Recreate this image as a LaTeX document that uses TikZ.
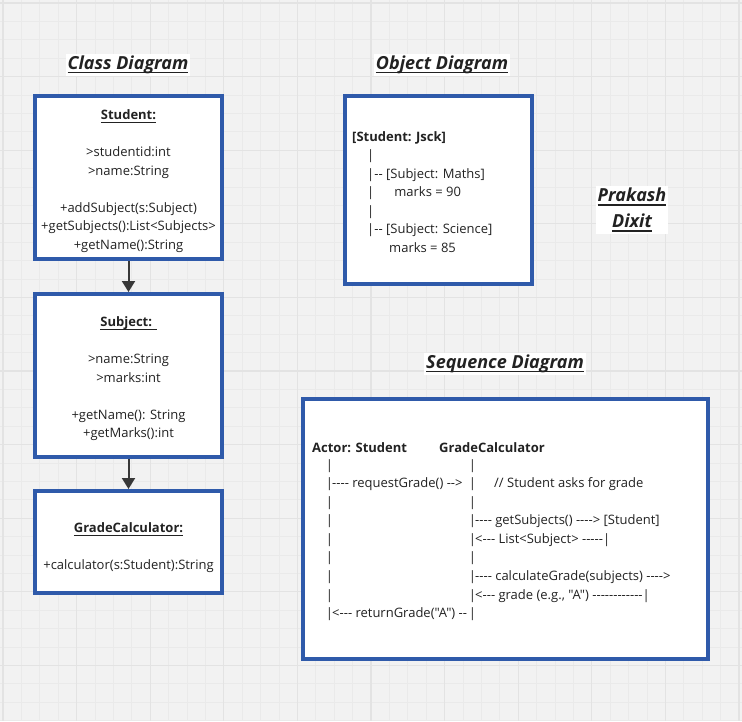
\documentclass[tikz,border=0pt]{standalone}
\usepackage{fontspec}
\setmainfont{Open Sans}[Ligatures=TeXOff]
\usetikzlibrary{arrows.meta}
\definecolor{rahmen}{HTML}{2F5AAA}
\definecolor{papier}{HTML}{F2F2F2}
\definecolor{gitter}{HTML}{EAEAEA}
\definecolor{gitterd}{HTML}{E3E3E3}
\definecolor{tinte}{HTML}{222222}
\newcommand\ustrich[2][1.6pt]{\setbox0\hbox{#2}\rlap{\vrule height -2.4pt depth \dimexpr2.4pt+#1\relax width \wd0}\box0}
\tikzset{
  kasten/.style={draw=rahmen,fill=white,line width=4pt,inner sep=0pt,align=center,
    font=\fontsize{13}{18.5}\selectfont,text=tinte},
  titel/.style={fill=white,inner sep=2pt,align=center,text=tinte,
    font=\fontsize{18}{26}\selectfont\bfseries\itshape},
  txt/.style={font=\fontsize{13}{18.5}\selectfont,text=tinte,inner sep=0pt},
  pfeil/.style={-{Triangle[length=11pt,width=13pt]},draw=tinte!90,line width=2pt},
  fein/.style={gitter,line width=0.8pt},
  grob/.style={gitterd,line width=1.2pt},
}

\begin{document}
\begin{tikzpicture}[x=1pt,y=-1pt]
  \useasboundingbox (0,0) rectangle (742,721);
  % raster
  \fill[papier] (0,0) rectangle (742,721);
  \foreach \i in {0,...,40} {
    \draw[fein] ({3+18.4*\i},0) -- ++(0,721);
    \draw[fein] (0,{3+18.4*\i}) -- ++(742,0);
  }
  \foreach \i in {0,...,10} {
    \draw[grob] ({3+73.6*\i},0) -- ++(0,721);
    \draw[grob] (0,{3+73.6*\i}) -- ++(742,0);
  }
  % titles
  \node[titel] (tklasse) at (128,64.5) {\ustrich{Class Diagram}};
  \node[titel] (tobjekt) at (442,64.5) {\ustrich{Object Diagram}};
  \node[titel] (tsequenz) at (505,363.5) {\ustrich{Sequence Diagram}};
  \node[titel] (tautor) at (632,210) {\ustrich{Prakash}\\\ustrich{Dixit}};
  % class diagram
  \node[kasten,minimum width=187,minimum height=163] (student) at (128.5,177.5)
    {\rule{0pt}{17pt}\ustrich[1pt]{\textbf{Student:}}\\[18.5pt]
     >studentid:int\\>name:String\\[18.5pt]
     +addSubject(s:Subject)\\+getSubjects():List<Subjects>\\+getName():String};
  \node[kasten,minimum width=187,minimum height=163] (subject) at (128.5,375.5)
    {\rule{0pt}{17pt}\ustrich[1pt]{\textbf{Subject: }}\\[18.5pt]
     >name:String\\>marks:int\\[18.5pt]
     +getName(): String\\+getMarks():int};
  \node[kasten,minimum width=187,minimum height=102] (rechner) at (128.5,542)
    {\rule{0pt}{22pt}\ustrich[1pt]{\textbf{GradeCalculator:}}\\[18.5pt]
     +calculator(s:Student):String};
  \draw[pfeil] (student) -- (subject);
  \draw[pfeil] (subject) -- (rechner);
  % object diagram
  \node[kasten,minimum width=187,minimum height=188] (objekt) at (438.5,190) {};
  \node[txt,align=left,anchor=west] (objinhalt) at (352,192)
    {\textbf{[Student: Jsck]}\\
     \hspace*{15pt}|\\
     \hspace*{15pt}|-- [Subject: Maths]\\
     \hspace*{15pt}|\hspace*{20pt}marks = 90\\
     \hspace*{15pt}|\\
     \hspace*{15pt}|-- [Subject: Science]\\
     \hspace*{37pt}marks = 85};
  % sequence diagram
  \node[kasten,minimum width=405,minimum height=260] (sequenz) at (505.5,529) {};
  \node[txt,anchor=base west,font=\fontsize{13}{18.5}\selectfont\bfseries] (akteur) at (312,452) {Actor: Student};
  \node[txt,anchor=base west,font=\fontsize{13}{18.5}\selectfont\bfseries] (rechnerkopf) at (439,452) {GradeCalculator};
  \foreach \y [count=\k] in {469,487,506,524,543,561,580,599,617} {
    \node[txt,anchor=base] (links\k) at (329.5,\y) {|};
    \node[txt,anchor=base] (rechts\k) at (472.5,\y) {|};
  }
  \node[txt,anchor=base west] (anfrage) at (332,487) {---- requestGrade() -->};
  \node[txt,anchor=base west] (kommentar) at (494,487) {// Student asks for grade};
  \node[txt,anchor=base west] (faecher) at (475,524) {---- getSubjects() ----> [Student]};
  \node[txt,anchor=base west] (liste) at (475,543) {<--- List<Subject> -----|};
  \node[txt,anchor=base west] (berechnen) at (475,580) {---- calculateGrade(subjects) ---->};
  \node[txt,anchor=base west] (note) at (475,599) {<--- grade (e.g., "A") ------------|};
  \node[txt,anchor=base west] (rueckgabe) at (332,617) {<--- returnGrade("A") --};
\end{tikzpicture}
\end{document}
